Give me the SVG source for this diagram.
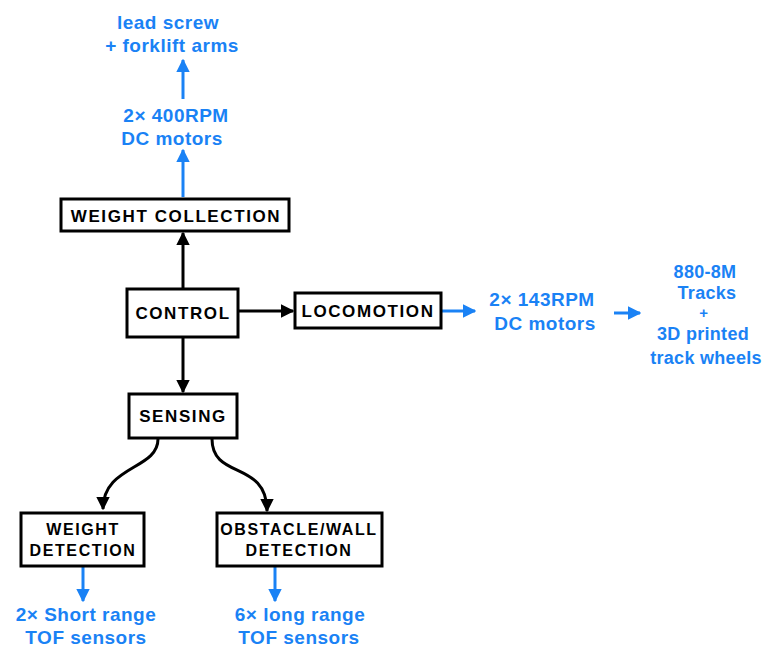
<svg xmlns="http://www.w3.org/2000/svg" width="772" height="648" viewBox="0 0 772 648">
<defs>
<style>
.box{fill:#fff;stroke:#000;stroke-width:3}
.lbl{font-family:"Liberation Sans",Arial,sans-serif;font-weight:700;font-size:17px;fill:#000;text-anchor:middle;letter-spacing:1.6px}
.two{font-size:16px}
.blue{font-family:"Liberation Sans",Arial,sans-serif;font-weight:700;font-size:19px;fill:#1a82f5;text-anchor:middle;letter-spacing:0.5px}
.sm{font-size:18px;letter-spacing:0.3px}
.pl{font-size:15px}
.bk{stroke:#000;stroke-width:3;fill:none}
.bl{stroke:#1a82f5;stroke-width:3;fill:none}
</style>
<marker id="ab" viewBox="0 0 10 10" refX="9" refY="5" markerWidth="4.5" markerHeight="4.5" orient="auto" markerUnits="strokeWidth"><path d="M0,0 L10,5 L0,10 z" fill="#000"/></marker>
<marker id="au" viewBox="0 0 10 10" refX="9" refY="5" markerWidth="4.5" markerHeight="4.5" orient="auto" markerUnits="strokeWidth"><path d="M0,0 L10,5 L0,10 z" fill="#1a82f5"/></marker>
</defs>
<rect width="772" height="648" fill="#fff"/>
<g id="connectors">
<path class="bk" d="M183,288 V233" marker-end="url(#ab)"/>
<path class="bk" d="M238,311 H293" marker-end="url(#ab)"/>
<path class="bk" d="M183,337 V392" marker-end="url(#ab)"/>
<path class="bk" d="M158,439 C158,470 103,465 103,509" marker-end="url(#ab)"/>
<path class="bk" d="M212,439 C212,480 267,460 267,511" marker-end="url(#ab)"/>
<path class="bl" d="M183,197 V150" marker-end="url(#au)"/>
<path class="bl" d="M183,99 V60" marker-end="url(#au)"/>
<path class="bl" d="M442,311 H475" marker-end="url(#au)"/>
<path class="bl" d="M614,313 H640" marker-end="url(#au)"/>
<path class="bl" d="M83,567 V601" marker-end="url(#au)"/>
<path class="bl" d="M275,567 V601" marker-end="url(#au)"/>
</g>
<g id="weight-collection"><rect class="box" x="61" y="199" width="228" height="32"/><text class="lbl" x="176" y="222">WEIGHT COLLECTION</text></g>
<g id="control"><rect class="box" x="127" y="289" width="111" height="48"/><text class="lbl" x="183" y="319">CONTROL</text></g>
<g id="locomotion"><rect class="box" x="295" y="293" width="146" height="35"/><text class="lbl" x="368" y="317">LOCOMOTION</text></g>
<g id="sensing"><rect class="box" x="129" y="394" width="108" height="44"/><text class="lbl" x="183" y="422">SENSING</text></g>
<g id="weight-detection"><rect class="box" x="21" y="513" width="123" height="53"/><text class="lbl two" x="83" y="535">WEIGHT</text><text class="lbl two" x="83" y="556">DETECTION</text></g>
<g id="obstacle-detection"><rect class="box" x="217" y="513" width="165" height="53"/><text class="lbl two" x="299" y="535">OBSTACLE/WALL</text><text class="lbl two" x="299" y="556">DETECTION</text></g>
<g id="lead-screw"><text class="blue" x="168" y="29">lead screw</text><text class="blue" x="172" y="52">+ forklift arms</text></g>
<g id="motors-400"><text class="blue" x="176" y="122">2× 400RPM</text><text class="blue" x="172" y="145">DC motors</text></g>
<g id="motors-143"><text class="blue" x="542" y="306">2× 143RPM</text><text class="blue" x="545" y="330">DC motors</text></g>
<g id="tracks"><text class="blue sm" x="705" y="278">880-8M</text><text class="blue sm" x="707" y="299">Tracks</text><text class="blue pl" x="704" y="318">+</text><text class="blue sm" x="703" y="340">3D printed</text><text class="blue sm" x="706" y="364">track wheels</text></g>
<g id="short-tof"><text class="blue" x="86" y="621">2× Short range</text><text class="blue" x="86" y="644">TOF sensors</text></g>
<g id="long-tof"><text class="blue" x="300" y="621">6× long range</text><text class="blue" x="299" y="644">TOF sensors</text></g>
</svg>
